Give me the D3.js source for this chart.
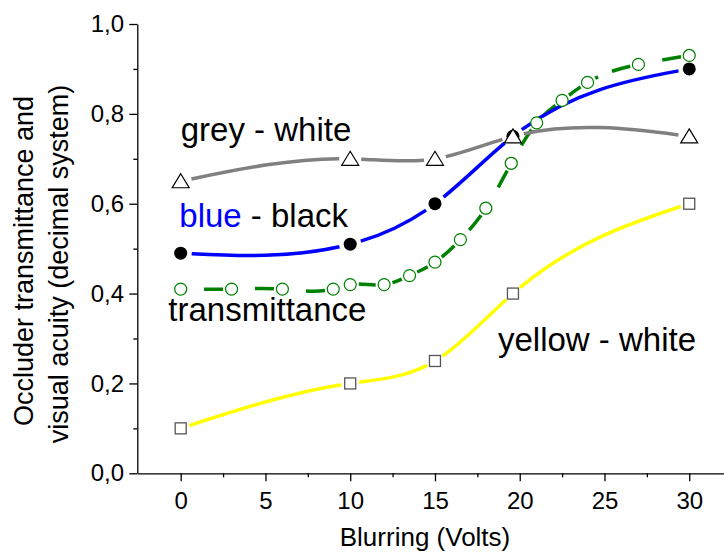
<!DOCTYPE html>
<html>
<head>
<meta charset="utf-8">
<script src="https://cdn.jsdelivr.net/npm/d3@7"></script>
<style>
  html, body { margin: 0; padding: 0; background: #fff; }
  svg { display: block; font-family: "Liberation Sans", Arial, sans-serif; }
</style>
</head>
<body>
<svg id="chart" width="724" height="553"></svg>
<script>
// Blurring voltage at which each stimulus was measured
const volts = [0, 10, 15, 19.6, 30];
const greyWhite = [0.65, 0.70, 0.70, 0.75, 0.75];
const blueBlack = [0.49, 0.51, 0.60, 0.75, 0.90];
const yellowWhite = [0.10, 0.20, 0.25, 0.40, 0.60];

// Occluder transmittance, measured on a finer voltage grid
const transVolts = [0, 3, 6, 9, 10, 12, 13.5, 15, 16.5, 18, 19.5, 21, 22.5, 24, 27, 30];
const transmittance = [0.41, 0.41, 0.41, 0.41, 0.42, 0.42, 0.44, 0.47, 0.52, 0.59, 0.69, 0.78, 0.83, 0.87, 0.91, 0.93];

const xTicks = [0, 5, 10, 15, 20, 25, 30];
const xMinor = [2.5, 7.5, 12.5, 17.5, 22.5, 27.5];
const yTicks = [0, 0.2, 0.4, 0.6, 0.8, 1.0];
const yMinor = [0.1, 0.3, 0.5, 0.7, 0.9];

const svg = d3.select("#chart");
const x = d3.scaleLinear().domain([-2.56, 32.05]).range([137.3, 724]);
const y = d3.scaleLinear().domain([0, 1]).range([473.3, 24]);

// Natural cubic spline y(x), emitted as exact cubic Bézier pieces
function NaturalX(context) { this._context = context; }
NaturalX.prototype = {
  areaStart() { this._line = 0; },
  areaEnd() { this._line = NaN; },
  lineStart() { this._xs = []; this._ys = []; },
  point(px, py) { this._xs.push(+px); this._ys.push(+py); },
  lineEnd() {
    const xs = this._xs, ys = this._ys, n = xs.length, c = this._context;
    if (!n) return;
    c.moveTo(xs[0], ys[0]);
    if (n < 3) { if (n === 2) c.lineTo(xs[1], ys[1]); return; }
    const h = [];
    for (let i = 0; i < n - 1; i++) h.push(xs[i + 1] - xs[i]);
    const M = new Array(n).fill(0);
    const a = [], b = [], cc = [], d = [];
    for (let i = 1; i < n - 1; i++) {
      a.push(h[i - 1]);
      b.push(2 * (h[i - 1] + h[i]));
      cc.push(h[i]);
      d.push(6 * ((ys[i + 1] - ys[i]) / h[i] - (ys[i] - ys[i - 1]) / h[i - 1]));
    }
    const m = b.length;
    for (let i = 1; i < m; i++) {
      const w = a[i] / b[i - 1];
      b[i] -= w * cc[i - 1];
      d[i] -= w * d[i - 1];
    }
    const sol = new Array(m);
    sol[m - 1] = d[m - 1] / b[m - 1];
    for (let i = m - 2; i >= 0; i--) sol[i] = (d[i] - cc[i] * sol[i + 1]) / b[i];
    for (let i = 0; i < m; i++) M[i + 1] = sol[i];
    for (let i = 0; i < n - 1; i++) {
      const hi = h[i];
      const s0 = (ys[i + 1] - ys[i]) / hi - hi * (2 * M[i] + M[i + 1]) / 6;
      const s1 = (ys[i + 1] - ys[i]) / hi + hi * (M[i] + 2 * M[i + 1]) / 6;
      c.bezierCurveTo(xs[i] + hi / 3, ys[i] + s0 * hi / 3,
                      xs[i + 1] - hi / 3, ys[i + 1] - s1 * hi / 3,
                      xs[i + 1], ys[i + 1]);
    }
  }
};
const curveNaturalX = context => new NaturalX(context);

// ---- axes ----
const fmt = d => d3.format(".1f")(d).replace(".", ",");

svg.append("g").attr("transform", `translate(${x.range()[0]},0)`)
  .call(d3.axisLeft(y).tickValues(yTicks).tickSize(8).tickSizeOuter(0).tickPadding(5.3).tickFormat(fmt));
svg.append("g").attr("transform", `translate(${x.range()[0]},0)`)
  .call(d3.axisLeft(y).tickValues(yMinor).tickSize(4).tickSizeOuter(0).tickFormat(""))
  .call(g => g.select(".domain").remove());

svg.append("g").attr("transform", `translate(0,${y.range()[0]})`)
  .call(d3.axisBottom(x).tickValues(xTicks).tickSize(8).tickSizeOuter(0).tickPadding(11).tickFormat(d3.format("d")));
svg.append("g").attr("transform", `translate(0,${y.range()[0]})`)
  .call(d3.axisBottom(x).tickValues(xMinor).tickSize(4).tickSizeOuter(0).tickFormat(""))
  .call(g => g.select(".domain").remove());

svg.selectAll(".domain, .tick line").attr("stroke", "#000").attr("stroke-width", 1.3);
svg.selectAll(".tick text")
  .attr("font-family", "'Liberation Sans', Arial, sans-serif")
  .attr("font-size", 24).attr("fill", "#000");

// axis titles
svg.append("text").attr("x", 425).attr("y", 546).attr("text-anchor", "middle")
  .attr("font-size", 26).text("Blurring (Volts)");
const yt = svg.append("g").attr("font-size", 27).attr("text-anchor", "middle");
yt.append("text").attr("transform", "translate(33.3,261) rotate(-90)").text("Occluder transmittance and");
yt.append("text").attr("transform", "translate(68,264) rotate(-90)").text("visual acuity (decimal system)");

// ---- series ----
const plot = svg.append("g");

function lengthAtX(node, px, total) {
  let lo = 0, hi = total;
  for (let k = 0; k < 40; k++) {
    const mid = (lo + hi) / 2;
    if (node.getPointAtLength(mid).x < px) lo = mid; else hi = mid;
  }
  return (lo + hi) / 2;
}

// Line broken around its markers; optional dash pattern laid back from each marker gap
function drawLine(xs, ys, opt) {
  const pts = xs.map((v, i) => [x(v), y(ys[i])]);
  const path = plot.append("path")
    .attr("d", d3.line().curve(curveNaturalX)(pts))
    .attr("fill", "none")
    .attr("stroke", opt.color)
    .attr("stroke-width", opt.width)
    .attr("stroke-linecap", "butt");
  const node = path.node();
  const total = node.getTotalLength();
  const lens = pts.map(p => lengthAtX(node, p[0], total));
  const spans = [];
  for (let i = 0; i < pts.length - 1; i++) {
    const a = lens[i] + opt.gap, b = lens[i + 1] - opt.gap;
    if (b <= a) continue;
    if (!opt.dash) { spans.push([a, b]); continue; }
    let end = b;
    while (end > a) {
      const start = Math.max(a, end - opt.dash[0]);
      if (end - start > 2) spans.push([start, end]);
      end = start - opt.dash[1];
    }
  }
  spans.sort((p, q) => p[0] - q[0]);
  const arr = [0];
  let pos = 0;
  spans.forEach(([s, e]) => { arr.push(s - pos, e - s); pos = e; });
  arr.push(total - pos + 10);
  path.attr("stroke-dasharray", arr.map(v => v.toFixed(2)).join(","));
  return pts;
}

function drawMarkers(xs, ys, kind) {
  const g = plot.append("g");
  const sel = g.selectAll("g").data(xs.map((v, i) => [x(v), y(ys[i])])).join("g")
    .attr("transform", d => `translate(${d[0]},${d[1]})`);
  if (kind === "square") {
    sel.append("rect").attr("x", -5.5).attr("y", -5.5).attr("width", 11).attr("height", 11)
      .attr("fill", "#fff").attr("stroke", "#555").attr("stroke-width", 1.3);
  } else if (kind === "open") {
    sel.append("circle").attr("r", 6).attr("fill", "#fff").attr("stroke", "#008000").attr("stroke-width", 1.2);
  } else if (kind === "dot") {
    sel.append("circle").attr("r", 6.5).attr("fill", "#000");
  } else if (kind === "triangle") {
    sel.append("path").attr("d", "M0,-7.5L8.5,6.5L-8.5,6.5Z")
      .attr("fill", "#fff").attr("stroke", "#000").attr("stroke-width", 1.2);
  }
}

drawLine(volts, yellowWhite, { color: "#ffff00", width: 3.5, gap: 9 });
drawLine(transVolts, transmittance, { color: "#008000", width: 3.5, gap: 8.5, dash: [19, 15] });
drawLine(volts, blueBlack, { color: "#0000ff", width: 3.5, gap: 11 });
drawLine(volts, greyWhite, { color: "#808080", width: 3.5, gap: 11 });

drawMarkers(volts, yellowWhite, "square");
drawMarkers(transVolts, transmittance, "open");
drawMarkers(volts, blueBlack, "dot");
drawMarkers(volts, greyWhite, "triangle");

// series labels
const lab = svg.append("g").attr("font-size", 33).attr("fill", "#000");
lab.append("text").attr("x", 180.7).attr("y", 141.3).text("grey - white");
const bb = lab.append("text").attr("x", 179.3).attr("y", 226.7);
bb.append("tspan").attr("fill", "#0000ff").text("blue");
bb.append("tspan").text(" - black");
lab.append("text").attr("x", 168.3).attr("y", 321).text("transmittance");
lab.append("text").attr("x", 498).attr("y", 351).text("yellow - white");
</script>
</body>
</html>
